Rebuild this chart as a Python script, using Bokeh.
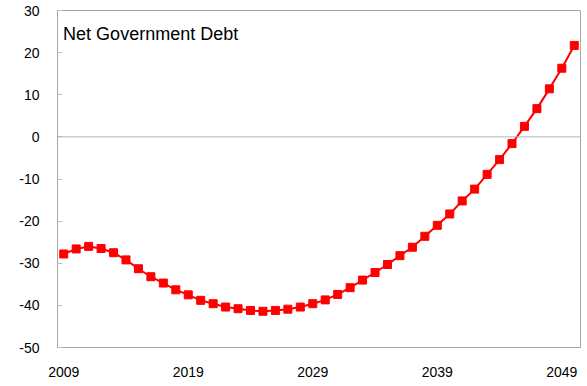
from bokeh.plotting import figure
from bokeh.models import ColumnDataSource, Span, Label, FixedTicker, Range1d, PrintfTickFormatter
from bokeh.embed import file_html
from bokeh.resources import INLINE

# ---- data ----
years = list(range(2009, 2051))
net_debt = [-27.8, -26.6, -26.0, -26.5, -27.5, -29.2, -31.3, -33.2, -34.7, -36.3,
            -37.5, -38.8, -39.6, -40.4, -40.8, -41.2, -41.4, -41.2, -40.9, -40.4,
            -39.6, -38.7, -37.4, -35.8, -34.0, -32.2, -30.3, -28.2, -26.2, -23.6,
            -21.0, -18.3, -15.2, -12.4, -8.9, -5.4, -1.6, 2.5, 6.7, 11.4,
            16.3, 21.7]
x_ticks = [2009, 2019, 2029, 2039, 2049]
y_ticks = [-50, -40, -30, -20, -10, 0, 10, 20, 30]
title_text = "Net Government Debt"

FONT = "Liberation Sans"
GRID = "#a6a6a6"

src = ColumnDataSource(dict(year=years, value=net_debt))

p = figure(width=587, height=386, output_backend="svg", toolbar_location=None,
           x_range=Range1d(2008.5, 2050.5), y_range=Range1d(-50, 30),
           min_border_left=57, min_border_right=7, min_border_top=10,
           min_border_bottom=39)

p.background_fill_color = "white"
p.border_fill_color = "white"
p.outline_line_color = GRID
p.outline_line_width = 1
p.xgrid.visible = False
p.ygrid.visible = False

# x axis
p.xaxis.ticker = FixedTicker(ticks=x_ticks)
p.xaxis.major_tick_in = 0
p.xaxis.major_tick_out = 0
p.xaxis.minor_tick_line_color = None
p.xaxis.axis_line_color = GRID
p.xaxis.major_label_standoff = 19
p.xaxis.major_label_text_font = FONT
p.xaxis.major_label_text_font_size = "14px"
p.xaxis.major_label_text_color = "black"

# y axis
p.yaxis.ticker = FixedTicker(ticks=y_ticks)
p.yaxis.formatter = PrintfTickFormatter(format="%d")
p.yaxis.major_tick_in = 5
p.yaxis.major_tick_out = 0
p.yaxis.major_tick_line_color = "#c0c0c0"
p.yaxis.minor_tick_line_color = None
p.yaxis.axis_line_color = GRID
p.yaxis.major_label_standoff = 18
p.yaxis.major_label_text_font = FONT
p.yaxis.major_label_text_font_size = "14px"
p.yaxis.major_label_text_color = "black"

# zero line
p.add_layout(Span(location=0, dimension="width", line_color="#b4b4b4", line_width=1))

# series
p.line("year", "value", source=src, line_color="#ff0000", line_width=2)
p.scatter("year", "value", source=src, marker="square", size=8,
          fill_color="#ff0000", line_color="#ff0000")

# title inside plot
p.add_layout(Label(x=2008.95, y=24.4, text=title_text, text_font=FONT,
                   text_font_size="18px", text_color="black",
                   text_baseline="alphabetic", text_align="left"))

open("out.html", "w").write(file_html(p, INLINE))
